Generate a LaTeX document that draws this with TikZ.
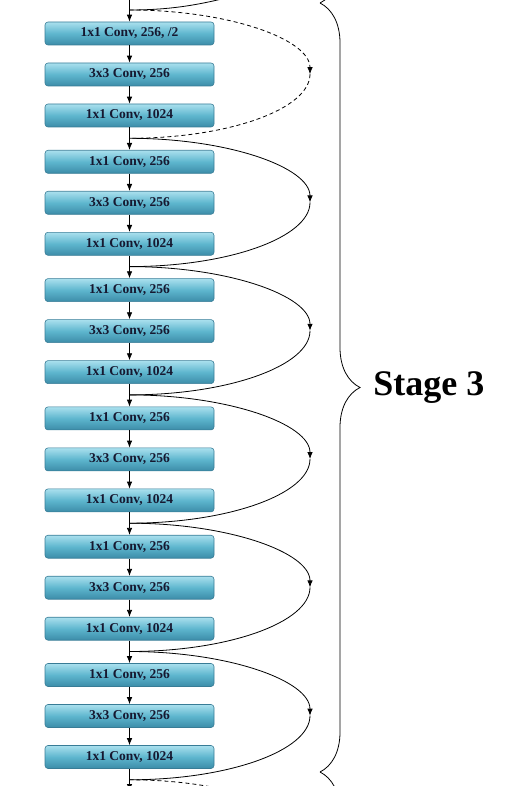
\documentclass[tikz,border=0pt]{standalone}
\usepackage{fontspec}
\setmainfont{Liberation Serif}
\usetikzlibrary{positioning,arrows.meta,decorations.pathreplacing}

\definecolor{convtop}{RGB}{170,224,238}
\definecolor{convmid}{RGB}{94,182,206}
\definecolor{convbot}{RGB}{60,140,168}
\definecolor{convedge}{RGB}{56,124,150}
\definecolor{convtext}{RGB}{22,24,48}

\tikzset{
    conv/.style={draw=convedge, line width=0.6pt, rounded corners=3pt,
        minimum width=169pt, minimum height=23pt, inner sep=0pt,
        top color=convtop, bottom color=convbot, middle color=convmid,
        text=convtext, font=\fontsize{13.5}{15}\selectfont\bfseries},
    shortcut/.style={->},
    projection/.style={->, dash pattern=on 4pt off 3pt},
    stagebrace/.style={decorate, decoration={brace, amplitude=40pt}},
}

\begin{document}
\begin{tikzpicture}[x=1pt, y=-1pt, line width=0.8pt,
        >={Latex[length=7pt,width=5.5pt]}]
    \useasboundingbox (0,0) rectangle (513,786);
    \clip (0,0) rectangle (513,786);
    \begin{scope} % junctions and turning points of the shortcuts
        \foreach \i in {-1,...,6}{
            \coordinate (j\i) at (129.5,{10+128.3*\i});
            \coordinate (t\i) at (310,{74.15+128.3*\i});
        }
        \coordinate (in) at (129.5,-5);
        \coordinate (out) at (129.5,791);
        \coordinate (prevtip) at (300,-20);
    \end{scope}
    \begin{scope} % Bottleneck blocks
        \foreach \i in {0,...,5}{
            \pgfmathsetmacro{\yy}{33.5+128.3*\i}
            \ifnum\i=0 \def\firstlabel{1x1 Conv, 256, /2}%
            \else \def\firstlabel{1x1 Conv, 256}\fi
            \node[conv] (b\i-1) at (129.5,\yy) {\firstlabel};
            \node[conv] (b\i-2) at (129.5,\yy+41) {3x3 Conv, 256};
            \node[conv] (b\i-3) at (129.5,\yy+82) {1x1 Conv, 1024};
            \draw[->] (b\i-1) -- (b\i-2);
            \draw[->] (b\i-2) -- (b\i-3);
        }
        \draw[->] (in) -- (b0-1);
        \foreach \i [count=\k from 1] in {0,...,4}
            \draw[->] (b\i-3) -- (b\k-1);
        \draw[->] (b5-3) -- (out);
    \end{scope}
    \begin{scope} % Shortcuts
        \draw (prevtip) .. controls +(-70,15) and +(70,0) .. (j0);
        \draw[projection] (j0) .. controls +(99,0) and +(0,-35) .. (t0);
        \draw[dash pattern=on 4pt off 3pt] (t0) .. controls +(0,35) and +(99,0) .. (j1);
        \foreach \i [count=\k from 2] in {1,...,5}{
            \draw[shortcut] (j\i) .. controls +(99,0) and +(0,-35) .. (t\i);
            \draw (t\i) .. controls +(0,35) and +(99,0) .. (j\k);
        }
        \draw[dash pattern=on 4pt off 3pt] (j6) .. controls +(99,0) and +(0,-35) .. (t6);
    \end{scope}
    \begin{scope} % Stage brace
        \draw[stagebrace] (320,-766) -- (320,3);
        \draw[stagebrace] (320,3) -- (320,772);
        \draw[stagebrace] (320,772) -- (320,1541);
        \coordinate (tip) at (360,387.5);
        \node[right=13pt of tip, inner sep=0pt,
            font=\fontsize{36}{40}\selectfont\bfseries] (stage) {Stage 3};
    \end{scope}
\end{tikzpicture}
\end{document}
